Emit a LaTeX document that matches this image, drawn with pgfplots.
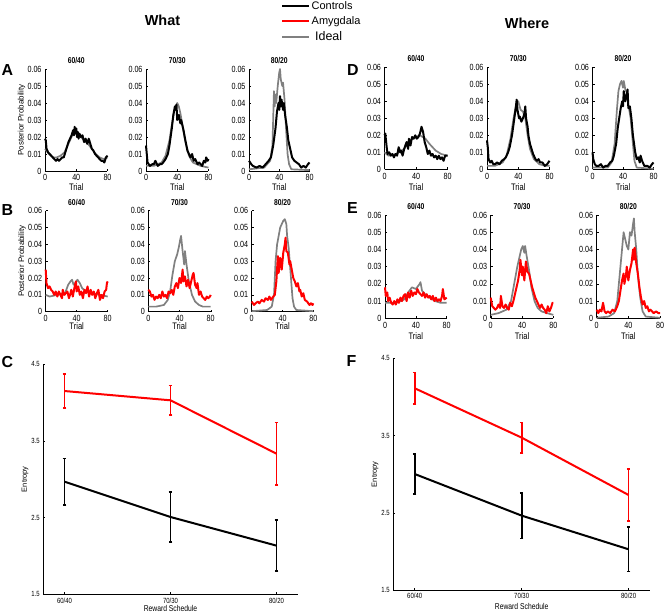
\documentclass[border=0pt]{standalone}
\usepackage{fontspec}
\setmainfont{Liberation Sans}
\newfontfamily\nar{Liberation Sans}[FakeStretch=0.8]
\usepackage{pgfplots}
\pgfplotsset{compat=1.18}
\definecolor{idealgray}{RGB}{128,128,128}
\definecolor{amyred}{RGB}{255,0,0}
\pgfplotsset{
 base/.style={scale only axis, axis x line*=bottom, axis y line*=left,
   axis line style={-, line width=0.5bp, black}, tick align=inside,
   major tick length=2bp, tick style={black, line width=0.4bp},
   scaled y ticks=false, scaled x ticks=false,
   /pgf/number format/assume math mode=true, clip=false},
 post/.style={base, xmin=0, xmax=80, ymin=0, ymax=0.06,
   xtick={0,40,80}, xticklabels={0,40,80},
   ytick={0,0.01,0.02,0.03,0.04,0.05,0.06},
   yticklabels={0,0.01,0.02,0.03,0.04,0.05,0.06},
   tick label style={font=\nar\fontsize{9}{10}\selectfont},
   xlabel={Trial},
   xlabel style={font=\nar\fontsize{9.5}{10}\selectfont, at={(axis description cs:0.5,#1)}, anchor=center},
   title style={font=\nar\bfseries\fontsize{8.5}{9}\selectfont, yshift=-4bp}},
 ent/.style={base, xmin=0.8, xmax=3.2, ymin=1.5, ymax=4.5,
   xtick={1,2,3}, xticklabels={60/40,70/30,80/20},
   ytick={1.5,2.5,3.5,4.5}, yticklabels={1.5,2.5,3.5,4.5},
   tick label style={font=\nar\fontsize{7.5}{8}\selectfont},
   xlabel={Reward Schedule}, ylabel={Entropy},
   xlabel style={font=\nar\fontsize{8.5}{9}\selectfont, anchor=center},
   ylabel style={font=\fontsize{7.5}{8}\selectfont, anchor=center}},
 ppl/.style={ylabel={Posterior Probability},
   ylabel style={font=\fontsize{8}{9}\selectfont, at={(axis description cs:#1,0.5)}, anchor=center}},
 ctl/.style={black, line width=2bp, line join=round},
 ideal/.style={idealgray, line width=1.7bp, line join=round},
 amy/.style={amyred, line width=2bp, line join=round},
 ebar/.style={#1, line width=2bp, error bars/.cd, y dir=both, y explicit,
   error bar style={line width=1.7bp}, error mark options={#1, rotate=90, line width=1.7bp, mark size=1.8bp}},
}
\begin{document}
\begin{tikzpicture}
\useasboundingbox (0,0) rectangle (666bp,613bp);
\node[font=\bfseries\fontsize{14.5}{16}\selectfont] at (162.5bp,592.5bp) {What};
\node[font=\bfseries\fontsize{14.5}{16}\selectfont] at (527bp,589.5bp) {Where};
\node[font=\bfseries\fontsize{16}{18}\selectfont] at (7.5bp,543bp) {A};
\node[font=\bfseries\fontsize{16}{18}\selectfont] at (7.5bp,403.3bp) {B};
\node[font=\bfseries\fontsize{16}{18}\selectfont] at (7.5bp,251bp) {C};
\node[font=\bfseries\fontsize{16}{18}\selectfont] at (353bp,543bp) {D};
\node[font=\bfseries\fontsize{16}{18}\selectfont] at (352.5bp,404.5bp) {E};
\node[font=\bfseries\fontsize{16}{18}\selectfont] at (351.5bp,252bp) {F};

% ---------------- A1 ----------------
\begin{axis}[post=-0.154, ppl=-0.373, at={(45bp,442bp)}, anchor=south west, width=62.5bp, height=102bp, title={60/40}]
\addplot[ideal] coordinates {(0,0.013)(5,0.010)(10,0.008)(15,0.008)(20,0.009)(25,0.011)(30,0.016)(35,0.021)(38,0.023)(42,0.022)(46,0.020)(50,0.018)(55,0.016)(60,0.013)(65,0.010)(70,0.008)(75,0.007)(80,0.008)};
\addplot[ctl] coordinates {(0,0.019)(1,0.018)(2,0.013)(4,0.011)(6,0.010)(8,0.009)(10,0.008)(12,0.007)(14,0.006)(16,0.007)(18,0.006)(20,0.007)(22,0.008)(24,0.008)(26,0.011)(28,0.014)(30,0.017)(32,0.019)(34,0.021)(36,0.024)(37,0.021)(38,0.026)(39,0.022)(40,0.025)(41,0.020)(42,0.023)(43,0.019)(44,0.022)(46,0.020)(48,0.021)(50,0.017)(52,0.019)(54,0.016)(56,0.019)(58,0.016)(60,0.013)(62,0.012)(64,0.010)(66,0.009)(68,0.008)(70,0.007)(72,0.006)(74,0.006)(76,0.005)(78,0.008)(80,0.009)};
\end{axis}

% ---------------- A2 ----------------
\begin{axis}[post=-0.154, at={(146bp,442bp)}, anchor=south west, width=62.5bp, height=102bp, title={70/30},
  legend style={at={(2.16,1.676)}, anchor=north west, draw=none, fill=none, inner sep=0pt,
    font=\fontsize{11}{12}\selectfont, row sep=2.5bp, nodes={inner sep=1.5bp}},
  legend cell align=left,
  legend image code/.code={\draw[#1, line width=2bp] (0bp,0bp) -- (27bp,0bp);}]
\addplot[ideal, forget plot] coordinates {(0,0.003)(10,0.003)(20,0.005)(25,0.009)(30,0.018)(33,0.027)(36,0.035)(38,0.038)(40,0.040)(42,0.038)(44,0.034)(47,0.026)(50,0.018)(55,0.009)(60,0.005)(70,0.003)(80,0.002)};
\addplot[ctl] coordinates {(0,0.015)(2,0.005)(5,0.003)(8,0.004)(10,0.004)(12,0.006)(15,0.003)(18,0.004)(20,0.004)(22,0.005)(25,0.007)(28,0.010)(30,0.015)(33,0.025)(35,0.033)(37,0.038)(38,0.036)(39,0.039)(40,0.030)(42,0.033)(44,0.028)(45,0.030)(48,0.024)(50,0.019)(53,0.012)(55,0.010)(57,0.008)(59,0.010)(61,0.006)(63,0.007)(66,0.004)(68,0.005)(70,0.004)(72,0.003)(74,0.006)(76,0.005)(77,0.008)(79,0.006)(80,0.007)};
\addlegendimage{amyred}
\addlegendimage{idealgray}
\legend{Controls,Amygdala,{\fontsize{12.5}{13}\selectfont\ Ideal}}
\end{axis}

% ---------------- A3 ----------------
\begin{axis}[post=-0.154, at={(249bp,442bp)}, anchor=south west, width=60.5bp, height=102bp, title={80/20}]
\addplot[ideal] coordinates {(0,0.001)(20,0.002)(28,0.006)(31,0.015)(33,0.047)(34,0.038)(35,0.045)(36,0.040)(38,0.050)(40,0.058)(41,0.060)(42,0.054)(44,0.050)(45,0.052)(47,0.042)(49,0.025)(51,0.010)(53,0.004)(56,0.001)(80,0.0005)};
\addplot[ctl] coordinates {(0,0.006)(3,0.004)(5,0.003)(10,0.002)(14,0.003)(18,0.002)(22,0.004)(26,0.006)(29,0.008)(32,0.015)(35,0.025)(37,0.035)(39,0.040)(40,0.036)(41,0.044)(42,0.038)(43,0.042)(45,0.036)(46,0.040)(48,0.032)(50,0.026)(52,0.018)(55,0.012)(57,0.008)(60,0.006)(63,0.005)(66,0.004)(69,0.002)(72,0.003)(75,0.002)(78,0.004)(80,0.005)};
\end{axis}

% ---------------- D1 ----------------
\begin{axis}[post=-0.17, at={(384.5bp,443.7bp)}, anchor=south west, width=63bp, height=102bp, title={60/40}]
\addplot[ideal] coordinates {(0,0.010)(5,0.008)(15,0.009)(25,0.012)(32,0.017)(40,0.019)(45,0.020)(52,0.018)(57,0.015)(65,0.011)(72,0.009)(80,0.008)};
\addplot[ctl] coordinates {(0,0.020)(1,0.021)(3,0.012)(4,0.009)(6,0.010)(8,0.008)(10,0.009)(12,0.007)(14,0.009)(16,0.008)(18,0.013)(20,0.010)(21,0.011)(23,0.008)(25,0.012)(28,0.016)(30,0.012)(31,0.018)(33,0.014)(35,0.019)(37,0.018)(39,0.020)(41,0.018)(43,0.019)(45,0.021)(47,0.025)(49,0.022)(51,0.016)(53,0.013)(55,0.009)(57,0.011)(59,0.008)(61,0.009)(63,0.007)(65,0.008)(67,0.006)(69,0.008)(71,0.006)(73,0.007)(75,0.005)(77,0.008)(80,0.008)};
\end{axis}

% ---------------- D2 ----------------
\begin{axis}[post=-0.17, at={(487bp,443.7bp)}, anchor=south west, width=62.5bp, height=102bp, title={70/30}]
\addplot[ideal] coordinates {(0,0.002)(10,0.002)(20,0.004)(25,0.008)(30,0.018)(34,0.030)(37,0.037)(40,0.040)(43,0.035)(46,0.034)(49,0.030)(52,0.020)(55,0.012)(60,0.006)(67,0.003)(75,0.002)(80,0.002)};
\addplot[ctl] coordinates {(0,0.017)(1,0.013)(2,0.006)(4,0.004)(6,0.005)(8,0.003)(10,0.003)(13,0.004)(16,0.003)(19,0.005)(22,0.006)(24,0.007)(27,0.010)(29,0.013)(32,0.020)(35,0.030)(37,0.037)(38,0.041)(39,0.035)(41,0.030)(42,0.031)(44,0.028)(46,0.030)(48,0.033)(49,0.037)(50,0.030)(52,0.025)(53,0.020)(55,0.015)(57,0.012)(59,0.009)(62,0.006)(64,0.005)(66,0.006)(68,0.004)(71,0.004)(74,0.002)(77,0.003)(80,0.005)};
\end{axis}

% ---------------- D3 ----------------
\begin{axis}[post=-0.17, at={(592.5bp,443.7bp)}, anchor=south west, width=61bp, height=102bp, title={80/20}]
\addplot[ideal] coordinates {(0,0.001)(20,0.001)(25,0.004)(29,0.015)(32,0.035)(34,0.046)(36,0.050)(38,0.052)(40,0.048)(41,0.052)(43,0.047)(45,0.045)(47,0.038)(50,0.030)(53,0.015)(55,0.005)(58,0.001)(80,0.0003)};
\addplot[ctl] coordinates {(0,0.010)(1,0.006)(3,0.003)(5,0.002)(8,0.002)(11,0.003)(14,0.001)(17,0.002)(20,0.002)(23,0.004)(26,0.005)(28,0.008)(31,0.015)(33,0.024)(35,0.030)(37,0.036)(39,0.040)(40,0.037)(41,0.046)(43,0.040)(45,0.044)(46,0.047)(47,0.036)(49,0.037)(51,0.030)(53,0.020)(56,0.010)(58,0.006)(60,0.007)(62,0.004)(63,0.008)(65,0.005)(68,0.002)(72,0.002)(75,0.001)(78,0.003)(80,0.004)};
\end{axis}

% ---------------- B1 ----------------
\begin{axis}[post=-0.142, ppl=-0.382, at={(45.7bp,301.3bp)}, anchor=south west, width=62bp, height=101bp, title={60/40}]
\addplot[ideal] coordinates {(0,0.010)(5,0.009)(15,0.010)(25,0.011)(29,0.016)(32,0.018)(34,0.019)(36,0.016)(38,0.017)(41,0.019)(44,0.017)(47,0.014)(52,0.012)(60,0.011)(70,0.010)(80,0.009)};
\addplot[amy] coordinates {(0,0.025)(1,0.017)(3,0.014)(5,0.015)(7,0.013)(9,0.012)(11,0.010)(13,0.012)(15,0.009)(17,0.012)(19,0.010)(21,0.008)(22,0.013)(24,0.010)(26,0.011)(28,0.012)(30,0.008)(32,0.011)(33,0.013)(35,0.009)(37,0.014)(39,0.018)(40,0.012)(42,0.015)(44,0.010)(46,0.012)(48,0.008)(50,0.013)(52,0.011)(54,0.015)(56,0.009)(58,0.013)(60,0.010)(62,0.012)(64,0.008)(66,0.011)(68,0.013)(70,0.007)(72,0.010)(74,0.008)(76,0.012)(78,0.013)(79,0.017)(80,0.018)};
\end{axis}

% ---------------- B2 ----------------
\begin{axis}[post=-0.142, at={(148.3bp,301.3bp)}, anchor=south west, width=62.4bp, height=101bp, title={70/30}]
\addplot[ideal] coordinates {(0,0.003)(10,0.003)(20,0.004)(25,0.007)(28,0.012)(31,0.022)(34,0.030)(37,0.034)(39,0.038)(41,0.043)(42,0.045)(44,0.036)(46,0.028)(47,0.036)(49,0.028)(52,0.018)(56,0.010)(60,0.006)(65,0.004)(70,0.003)(80,0.003)};
\addplot[amy] coordinates {(0,0.013)(2,0.012)(4,0.009)(6,0.010)(8,0.007)(10,0.009)(12,0.008)(14,0.010)(16,0.008)(18,0.012)(20,0.009)(22,0.010)(24,0.008)(26,0.012)(28,0.011)(30,0.013)(32,0.010)(34,0.015)(36,0.017)(38,0.014)(40,0.020)(42,0.017)(44,0.025)(45,0.018)(47,0.021)(49,0.015)(51,0.019)(53,0.014)(55,0.018)(57,0.022)(58,0.023)(60,0.016)(62,0.014)(63,0.017)(65,0.010)(67,0.012)(69,0.009)(71,0.008)(73,0.007)(75,0.009)(77,0.008)(79,0.009)(80,0.010)};
\end{axis}

% ---------------- B3 ----------------
\begin{axis}[post=-0.142, at={(251.7bp,301.3bp)}, anchor=south west, width=61.6bp, height=101bp, title={80/20}]
\addplot[ideal] coordinates {(0,0.0003)(20,0.001)(26,0.003)(29,0.010)(31,0.030)(33,0.040)(35,0.045)(37,0.050)(39,0.052)(41,0.054)(43,0.055)(45,0.052)(46,0.045)(48,0.038)(51,0.020)(53,0.008)(55,0.003)(58,0.001)(80,0.0003)};
\addplot[amy] coordinates {(0,0.006)(3,0.004)(5,0.005)(8,0.006)(10,0.005)(13,0.007)(16,0.006)(18,0.008)(21,0.007)(23,0.009)(25,0.007)(28,0.009)(30,0.010)(32,0.018)(34,0.033)(35,0.023)(37,0.032)(39,0.025)(41,0.035)(43,0.040)(44,0.044)(45,0.036)(47,0.035)(49,0.028)(50,0.030)(52,0.025)(54,0.020)(56,0.018)(58,0.015)(60,0.017)(62,0.012)(63,0.013)(65,0.009)(67,0.011)(69,0.007)(72,0.006)(75,0.004)(77,0.005)(79,0.004)(80,0.005)};
\end{axis}

% ---------------- E1 ----------------
\begin{axis}[post=-0.168, at={(385bp,294.7bp)}, anchor=south west, width=61.7bp, height=103.3bp, title={60/40}]
\addplot[ideal] coordinates {(0,0.009)(15,0.009)(25,0.011)(30,0.015)(35,0.018)(40,0.017)(45,0.020)(46,0.021)(48,0.016)(52,0.014)(58,0.012)(65,0.010)(72,0.009)(80,0.009)};
\addplot[amy] coordinates {(0,0.018)(1,0.013)(3,0.015)(4,0.010)(6,0.012)(8,0.009)(10,0.008)(12,0.010)(14,0.008)(16,0.011)(18,0.009)(20,0.012)(22,0.010)(24,0.013)(26,0.014)(28,0.010)(30,0.015)(32,0.012)(34,0.016)(36,0.013)(38,0.015)(40,0.014)(42,0.017)(44,0.015)(46,0.014)(48,0.013)(50,0.015)(52,0.012)(54,0.014)(56,0.012)(58,0.013)(60,0.011)(62,0.013)(64,0.010)(66,0.012)(68,0.010)(70,0.011)(72,0.010)(74,0.013)(75,0.017)(77,0.011)(80,0.012)};
\end{axis}

% ---------------- E2 ----------------
\begin{axis}[post=-0.168, at={(490.7bp,294.7bp)}, anchor=south west, width=62.6bp, height=103.3bp, title={70/30}]
\addplot[ideal] coordinates {(0,0.002)(10,0.003)(20,0.005)(26,0.010)(30,0.020)(34,0.030)(37,0.036)(39,0.040)(41,0.042)(43,0.038)(44,0.042)(46,0.036)(49,0.028)(52,0.018)(56,0.010)(60,0.006)(65,0.004)(72,0.003)(80,0.002)};
\addplot[amy] coordinates {(0,0.012)(2,0.007)(4,0.006)(6,0.005)(8,0.006)(10,0.008)(12,0.006)(13,0.013)(15,0.007)(17,0.006)(19,0.008)(21,0.006)(23,0.005)(25,0.009)(27,0.007)(29,0.010)(31,0.014)(33,0.018)(35,0.022)(37,0.028)(38,0.034)(40,0.025)(41,0.030)(43,0.022)(45,0.033)(47,0.027)(49,0.026)(51,0.022)(53,0.018)(55,0.015)(57,0.012)(59,0.010)(61,0.008)(63,0.006)(65,0.008)(67,0.006)(69,0.005)(71,0.003)(73,0.007)(75,0.004)(77,0.006)(79,0.009)(80,0.009)};
\end{axis}

% ---------------- E3 ----------------
\begin{axis}[post=-0.168, at={(596.7bp,294.7bp)}, anchor=south west, width=63.3bp, height=103.3bp, title={80/20}]
\addplot[ideal] coordinates {(0,0.0003)(15,0.001)(22,0.003)(26,0.010)(29,0.025)(32,0.040)(34,0.050)(36,0.046)(38,0.042)(40,0.040)(42,0.050)(44,0.048)(46,0.055)(47,0.058)(48,0.050)(50,0.040)(52,0.025)(55,0.012)(58,0.004)(62,0.001)(80,0.0003)};
\addplot[amy] coordinates {(0,0.005)(2,0.003)(4,0.005)(6,0.004)(8,0.009)(10,0.004)(12,0.003)(14,0.004)(17,0.003)(20,0.005)(23,0.004)(26,0.007)(28,0.010)(30,0.016)(32,0.022)(34,0.026)(35,0.020)(37,0.025)(38,0.030)(40,0.022)(42,0.028)(44,0.032)(46,0.040)(47,0.034)(48,0.041)(50,0.032)(52,0.026)(54,0.018)(56,0.012)(58,0.008)(60,0.010)(62,0.006)(64,0.007)(66,0.004)(68,0.005)(72,0.003)(75,0.004)(78,0.003)(80,0.003)};
\end{axis}

% ---------------- C ----------------
\begin{axis}[ent, at={(43.3bp,18.7bp)}, anchor=south west, width=254.4bp, height=230.3bp,
  xlabel style={at={(axis description cs:0.5,-0.061)}},
  ylabel style={at={(axis description cs:-0.072,0.5)}}]
\addplot[ebar=amyred] coordinates {(1,4.148) +- (0,0.22) (2,4.027) +- (0,0.193) (3,3.332) +- (0,0.404)};
\addplot[ebar=black] coordinates {(1,2.967) +- (0,0.302) (2,2.507) +- (0,0.33) (3,2.134) +- (0,0.335)};
\end{axis}

% ---------------- F ----------------
\begin{axis}[ent, at={(393.3bp,23bp)}, anchor=south west, width=256.7bp, height=231.7bp,
  xlabel style={at={(axis description cs:0.5,-0.072)}},
  ylabel style={at={(axis description cs:-0.071,0.5)}}]
\addplot[ebar=amyred] coordinates {(1,4.112) +- (0,0.205) (2,3.473) +- (0,0.195) (3,2.730) +- (0,0.339)};
\addplot[ebar=black] coordinates {(1,3.002) +- (0,0.255) (2,2.463) +- (0,0.296) (3,2.027) +- (0,0.288)};
\end{axis}
\end{tikzpicture}
\end{document}
